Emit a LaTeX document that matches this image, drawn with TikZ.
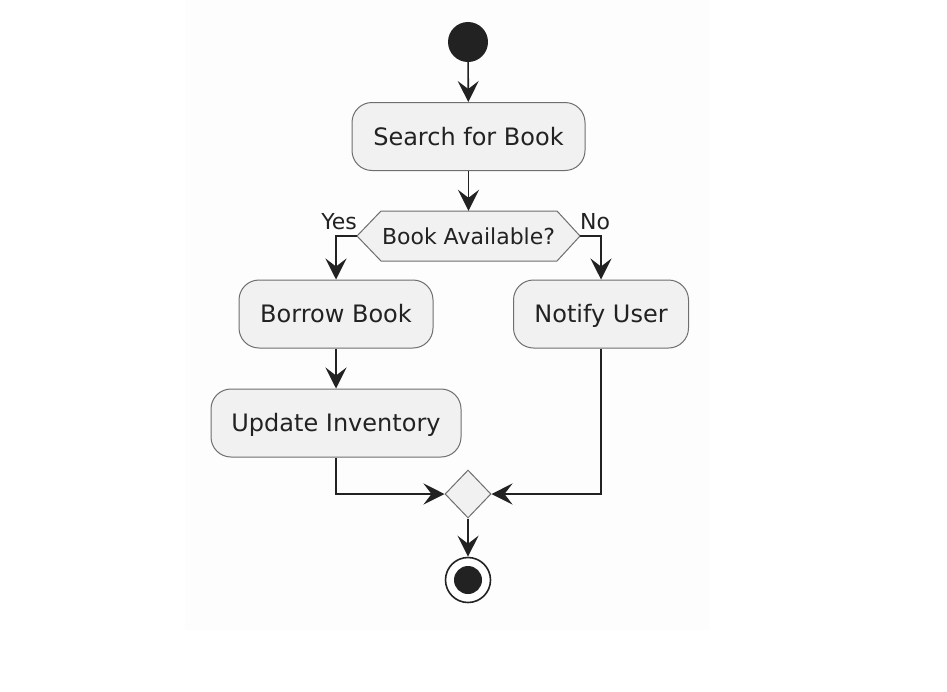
\documentclass[tikz,border=0pt]{standalone}
\usepackage{fontspec}
\setmainfont{DejaVu Sans}
\usetikzlibrary{arrows.meta,shapes.geometric}
\definecolor{boxfill}{HTML}{F1F1F1}
\definecolor{boxline}{HTML}{6E6E6E}
\definecolor{ink}{HTML}{222222}
\definecolor{bgshade}{HTML}{FDFDFD}
\tikzset{
  act/.style={draw=boxline, fill=boxfill, line width=1pt, rounded corners=20pt,
    minimum height=68pt, inner sep=0pt, text=ink, text height=17.5pt, text depth=0pt,
    font=\fontsize{24}{28}\selectfont},
  arr/.style={draw=ink, line width=1.6pt,
    -{Stealth[length=21pt, width=21pt, inset=8pt]}},
  lbl/.style={inner sep=0pt, text=ink, font=\fontsize{22}{26}\selectfont},
  hexshape/.style={draw=boxline, fill=boxfill, line width=1pt},
}
\begin{document}
\begin{tikzpicture}[x=1pt,y=-1pt]
\useasboundingbox (0,0) rectangle (947,691);
\fill[bgshade] (185,0) rectangle (710,630);
% start
\node[circle, fill=ink, minimum size=40pt, inner sep=0pt] (start) at (468,42) {};
% search
\node[act, minimum width=233pt] (search) at (468.5,136.5) {Search for Book};
% decision
\draw[hexshape] (357,236) -- (381,211) -- (557,211) -- (580,236) -- (557,261) -- (381,261) -- cycle;
\node[lbl, minimum width=223pt, minimum height=50pt] (dec) at (468.5,236) {Book Available?};
\node[lbl, anchor=east] (yes) at (357,222) {Yes};
\node[lbl, anchor=west] (no) at (580,222) {No};
% branches
\node[act, minimum width=194pt] (borrow) at (336,314) {Borrow Book};
\node[act, minimum width=175pt] (notify) at (601,314) {Notify User};
\node[act, minimum width=250pt] (update) at (336,423) {Update Inventory};
% merge
\node[diamond, draw=boxline, fill=boxfill, line width=1pt, minimum width=46pt, minimum height=48pt, inner sep=0pt] (merge) at (468,494) {};
% end
\node[circle, draw=ink, fill=white, line width=1.6pt, minimum size=45pt, inner sep=0pt] (stop) at (468,580) {};
\fill[ink] (stop.center) circle (14pt);
% connectors
\draw[arr] (start) -- (search);
\draw[arr] (search) -- (dec.north);
\draw[arr] (dec.west) -| (borrow.north);
\draw[arr] (dec.east) -| (notify.north);
\draw[arr] (borrow) -- (update);
\draw[arr] (update.south) |- (merge.west);
\draw[arr] (notify.south) |- (merge.east);
\draw[arr] (merge.south) -- (stop.north);
\end{tikzpicture}
\end{document}
